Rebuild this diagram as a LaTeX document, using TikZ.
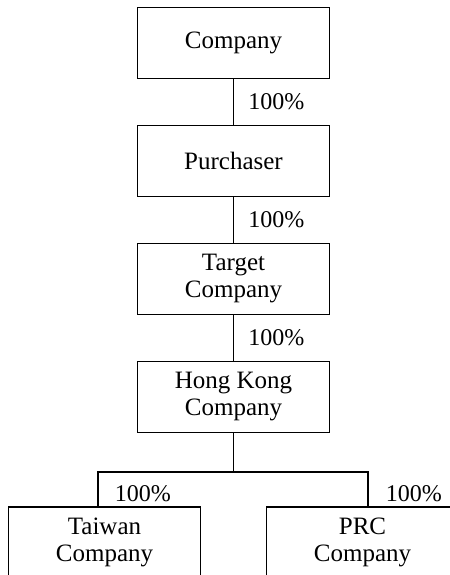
\documentclass[tikz,border=0pt]{standalone}
\usepackage{fontspec}
\setmainfont{Liberation Serif}
\usetikzlibrary{positioning}

\begin{document}
\begin{tikzpicture}[line width=0.85pt,node distance=59pt,
    box/.style={draw,minimum width=96pt,minimum height=35.5pt,align=center,
      font=\fontsize{12.5}{13.5}\selectfont},
    pct/.style={font=\fontsize{12}{13.5}\selectfont,inner sep=1pt}]

  \clip (0,0) rectangle (225pt,-287.5pt);

  \node[box] (co) at (116.75pt,-21.5pt) {Company};
  \node[box] (pur) [below of=co] {Purchaser};
  \node[box] (tgt) [below of=pur] {Target\\Company};
  \node[box] (hk) [below of=tgt] {Hong Kong\\Company};

  \node[box] (tw) at ([shift={(-64.5pt,-72.75pt)}]hk) {Taiwan\\Company};
  \node[box] (prc) at ([shift={(64.5pt,-72.75pt)}]hk) {PRC\\Company};

  \path (co) -- coordinate (m1) (pur)
  (pur) -- coordinate (m2) (tgt)
  (tgt) -- coordinate (m3) (hk);

  \draw (co) -- (pur);
  \draw (pur) -- (tgt);
  \draw (tgt) -- (hk);
  \node[pct,right=6pt of m1] (p1) {100\%};
  \node[pct,right=6pt of m2] (p2) {100\%};
  \node[pct,right=6pt of m3] (p3) {100\%};

  \coordinate (bus) at ([yshift=-19.25pt]hk.south);
  \coordinate (twtop) at ([xshift=-3.25pt]tw.north);
  \coordinate (prctop) at ([xshift=2.75pt]prc.north);
  \draw (hk) -- (bus);
  \draw (twtop) |- (bus) -| (prctop);
  \node[pct,above right=0.5pt and 7pt of twtop] (p4) {100\%};
  \node[pct,above right=0.5pt and 7.5pt of prctop] (p5) {100\%};

\end{tikzpicture}
\end{document}
